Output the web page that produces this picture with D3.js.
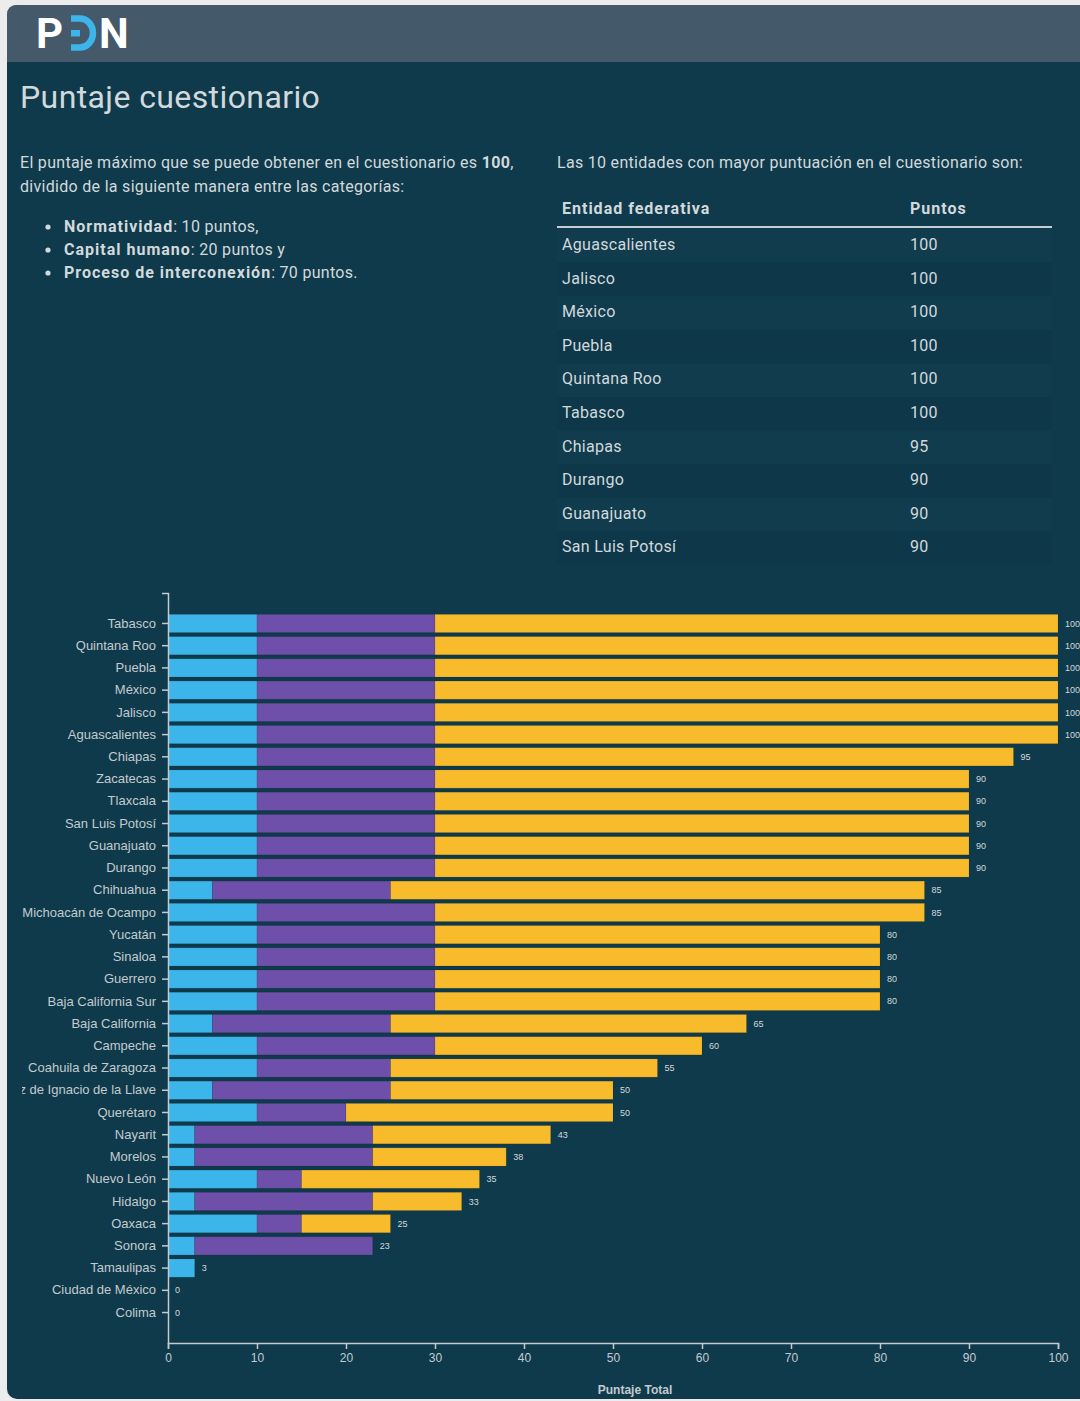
<!DOCTYPE html>
<html>
<head>
<meta charset="utf-8">
<script src="https://cdn.jsdelivr.net/npm/d3@7"></script>
<style>
  html, body { margin: 0; padding: 0; background: #ececec; }
  svg { display: block; }
</style>
</head>
<body>
<script>
// puntajes por entidad, en el orden de la gráfica (de arriba a abajo)
const states = ["Tabasco", "Quintana Roo", "Puebla", "México", "Jalisco", "Aguascalientes",
  "Chiapas", "Zacatecas", "Tlaxcala", "San Luis Potosí", "Guanajuato", "Durango",
  "Chihuahua", "Michoacán de Ocampo", "Yucatán", "Sinaloa", "Guerrero", "Baja California Sur",
  "Baja California", "Campeche", "Coahuila de Zaragoza", "Veracruz de Ignacio de la Llave",
  "Querétaro", "Nayarit", "Morelos", "Nuevo León", "Hidalgo", "Oaxaca", "Sonora",
  "Tamaulipas", "Ciudad de México", "Colima"];
const normatividad = [10, 10, 10, 10, 10, 10, 10, 10, 10, 10, 10, 10, 5, 10, 10, 10, 10, 10,
  5, 10, 10, 5, 10, 3, 3, 10, 3, 10, 3, 3, 0, 0];
const capitalHumano = [20, 20, 20, 20, 20, 20, 20, 20, 20, 20, 20, 20, 20, 20, 20, 20, 20, 20,
  20, 20, 15, 20, 10, 20, 20, 5, 20, 5, 20, 0, 0, 0];
const interconexion = [70, 70, 70, 70, 70, 70, 65, 60, 60, 60, 60, 60, 60, 55, 50, 50, 50, 50,
  40, 30, 30, 25, 30, 20, 15, 20, 10, 10, 0, 0, 0, 0];
const seriesKeys = ["normatividad", "capital", "proceso"];
const seriesColors = ["#3cb5eb", "#6e4fa9", "#f8bb2b"];

const topStates = ["Aguascalientes", "Jalisco", "México", "Puebla", "Quintana Roo", "Tabasco",
  "Chiapas", "Durango", "Guanajuato", "San Luis Potosí"];
const topPoints = [100, 100, 100, 100, 100, 100, 95, 90, 90, 90];

const xTicks = [0, 10, 20, 30, 40, 50, 60, 70, 80, 90, 100];

const W = 1080, H = 1401;
const textColor = "#d2d9dc";
const svg = d3.select("body").append("svg").attr("width", W).attr("height", H);

// tarjeta
svg.append("rect").attr("x", 7).attr("y", 5).attr("width", W + 20).attr("height", H - 7)
  .attr("rx", 10).attr("fill", "#0f3a4b");
svg.append("path")
  .attr("d", `M7,62 V15 Q7,5 17,5 H${W} V62 Z`)
  .attr("fill", "#44596a");

// logo PDN
const logo = svg.append("g").attr("font-family", "Roboto, sans-serif").attr("font-weight", 700)
  .attr("font-size", 42).attr("fill", "#ffffff");
logo.append("text").attr("x", 36).attr("y", 48).text("P");
logo.append("path").attr("d", "M71,18.5 H80 A13,14.5 0 0 1 80,47.5 H71")
  .attr("fill", "none").attr("stroke", "#3cb5eb").attr("stroke-width", 6.5);
logo.append("rect").attr("x", 71).attr("y", 30).attr("width", 9).attr("height", 6.5)
  .attr("fill", "#3cb5eb");
logo.append("text").attr("x", 99).attr("y", 48).text("N");

svg.append("text").attr("x", 20).attr("y", 108)
  .attr("font-family", "Roboto, sans-serif").attr("font-size", 32).attr("letter-spacing", 0.4)
  .attr("fill", textColor).text("Puntaje cuestionario");

// texto izquierdo
const para = svg.append("g").attr("font-family", "Roboto, sans-serif").attr("font-size", 16)
  .attr("letter-spacing", 0.3).attr("fill", textColor);
const l1 = para.append("text").attr("x", 20).attr("y", 168);
l1.append("tspan").text("El puntaje máximo que se puede obtener en el cuestionario es ");
l1.append("tspan").attr("font-weight", 700).text("100");
l1.append("tspan").text(",");
para.append("text").attr("x", 20).attr("y", 192).text("dividido de la siguiente manera entre las categorías:");

const bullets = [["Normatividad", ": 10 puntos,"], ["Capital humano", ": 20 puntos y"],
  ["Proceso de interconexión", ": 70 puntos."]];
bullets.forEach((b, i) => {
  const y = 232 + i * 23;
  para.append("circle").attr("cx", 48).attr("cy", y - 5).attr("r", 2.6).attr("fill", textColor);
  const t = para.append("text").attr("x", 64).attr("y", y);
  t.append("tspan").attr("font-weight", 700).attr("letter-spacing", 1.0).text(b[0]);
  t.append("tspan").text(b[1]);
});

// tabla derecha
const tbl = svg.append("g").attr("font-family", "Roboto, sans-serif").attr("font-size", 16)
  .attr("letter-spacing", 0.3).attr("fill", textColor);
tbl.append("text").attr("x", 557).attr("y", 168)
  .text("Las 10 entidades con mayor puntuación en el cuestionario son:");
tbl.append("text").attr("x", 562).attr("y", 214).attr("font-weight", 700)
  .attr("letter-spacing", 1.0).text("Entidad federativa");
tbl.append("text").attr("x", 910).attr("y", 214).attr("font-weight", 700)
  .attr("letter-spacing", 1.0).text("Puntos");
const rowH = 33.6;
tbl.selectAll("rect.row").data(topStates).join("rect").attr("class", "row")
  .attr("x", 557).attr("y", (d, i) => 229 + i * rowH).attr("width", 495).attr("height", rowH)
  .attr("fill", (d, i) => i % 2 === 0 ? "rgba(255,255,255,0.012)" : "rgba(0,0,0,0.025)");
tbl.append("rect").attr("x", 557).attr("y", 226).attr("width", 495).attr("height", 2)
  .attr("fill", "#c4cdd1");
tbl.selectAll("text.st").data(topStates).join("text").attr("class", "st")
  .attr("x", 562).attr("y", (d, i) => 250 + i * rowH).text(d => d);
tbl.selectAll("text.pt").data(topPoints).join("text").attr("class", "pt")
  .attr("x", 910).attr("y", (d, i) => 250 + i * rowH).text(d => d);

// gráfica de barras apiladas
const chartLeft = 22, chartTop = 585;
svg.append("clipPath").attr("id", "clip").append("rect")
  .attr("x", 0).attr("y", 0).attr("width", W - chartLeft).attr("height", H - chartTop);
const g = svg.append("g").attr("transform", `translate(${chartLeft},${chartTop})`)
  .attr("clip-path", "url(#clip)");

const x = d3.scaleLinear().domain([0, 100]).range([146, 1036]);
const y = d3.scaleBand().domain(states).range([8, 758]).paddingInner(0.18).paddingOuter(0.96);

const rows = states.map((s, i) => ({
  state: s, normatividad: normatividad[i], capital: capitalHumano[i], proceso: interconexion[i],
  total: normatividad[i] + capitalHumano[i] + interconexion[i]
}));
const stacked = d3.stack().keys(seriesKeys)(rows);

g.selectAll("g.layer").data(stacked).join("g").attr("class", "layer")
  .attr("fill", (d, i) => seriesColors[i])
  .selectAll("rect").data(d => d).join("rect")
  .attr("x", d => x(d[0])).attr("y", d => y(d.data.state))
  .attr("width", d => x(d[1]) - x(d[0])).attr("height", y.bandwidth())
  .attr("stroke", "rgba(0,0,0,0.12)").attr("stroke-width", 0.8);

g.selectAll("text.val").data(rows).join("text").attr("class", "val")
  .attr("x", d => x(d.total) + 7).attr("y", d => y(d.state) + y.bandwidth() / 2)
  .attr("dy", "0.35em").attr("font-family", "Liberation Sans, Arial, sans-serif")
  .attr("font-size", 9).attr("fill", textColor).text(d => d.total);

const axisColor = "#c3cbcf";
const yAxis = g.append("g").attr("transform", `translate(${x(0)},0)`)
  .call(d3.axisLeft(y).tickSize(6).tickPadding(6));
const xAxis = g.append("g").attr("transform", "translate(0,758)")
  .call(d3.axisBottom(x).tickValues(xTicks).tickSize(6).tickPadding(4));
[yAxis, xAxis].forEach(a => {
  a.selectAll("path, line").attr("stroke", axisColor).attr("stroke-width", 1.5);
  a.selectAll("text").attr("fill", axisColor).attr("font-size", 13)
    .attr("font-family", "Liberation Sans, Arial, sans-serif");
});
xAxis.selectAll("text").attr("font-size", 12);
yAxis.select("path").attr("d", "M-6,8.5H0.5V758.5");

g.append("text").attr("x", 613).attr("y", 809).attr("text-anchor", "middle")
  .attr("font-family", "Liberation Sans, Arial, sans-serif").attr("font-weight", 700)
  .attr("font-size", 12).attr("fill", axisColor).text("Puntaje Total");
</script>
</body>
</html>
